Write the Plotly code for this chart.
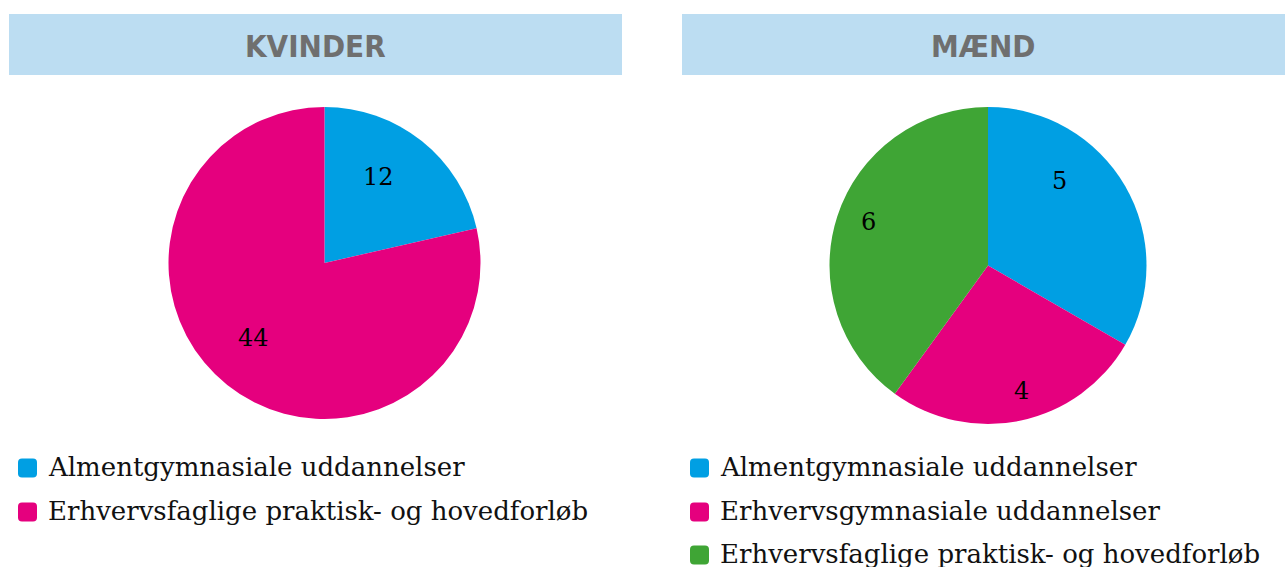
import math
import plotly.graph_objects as go

W, H = 1285, 567

titles = ["KVINDER", "MÆND"]
women_labels = ["Almentgymnasiale uddannelser", "Erhvervsfaglige praktisk- og hovedforløb"]
women_values = [12, 44]
women_colors = ["#009fe3", "#e5007e"]
men_labels = ["Almentgymnasiale uddannelser", "Erhvervsgymnasiale uddannelser",
              "Erhvervsfaglige praktisk- og hovedforløb"]
men_values = [5, 4, 6]
men_colors = ["#009fe3", "#e5007e", "#3fa535"]

SERIF = "DejaVu Serif, Liberation Serif, serif"
HEAD = "DejaVu Sans Condensed, Liberation Sans Narrow, sans-serif"


def px_x(x):
    return x / W


def px_y(y):
    return 1 - y / H


fig = go.Figure()

# (labels, values, colors, x-range px, y-range px, label radius fractions, label angle nudges)
pies = [
    (women_labels, women_values, women_colors, (168.5, 480.5), (107, 419),
     [0.65, 0.66], [-6.5, 5]),
    (men_labels, men_values, men_colors, (829.5, 1146.5), (107, 424),
     [0.70, 0.82, 0.80], [-20, -3, 2]),
]
annotations = []
shapes = []
for labels, values, colors, (x0, x1), (y0, y1), rfrac, nudge in pies:
    fig.add_trace(go.Pie(
        labels=labels, values=values, sort=False, direction="clockwise", rotation=0,
        marker=dict(colors=colors, line=dict(width=0)),
        textinfo="none",
        domain=dict(x=[px_x(x0), px_x(x1)], y=[px_y(y1), px_y(y0)]),
        hoverinfo="label+value", showlegend=False,
    ))
    cx, cy = (x0 + x1) / 2, (y0 + y1) / 2
    R = min(x1 - x0, y1 - y0) / 2
    total = sum(values)
    start = 0.0
    for v, rf, dn in zip(values, rfrac, nudge):
        span = v / total * 360
        ang = math.radians(start + span / 2 + dn)
        start += span
        lx = cx + rf * R * math.sin(ang)
        ly = cy - rf * R * math.cos(ang)
        annotations.append(dict(xref="paper", yref="paper", x=px_x(lx), y=px_y(ly),
                                text=str(v), showarrow=False, xanchor="center", yanchor="middle",
                                font=dict(family=SERIF, size=24, color="#000000")))

# header boxes
headers = [(9, 622), (682, 1285)]
for title, (hx0, hx1) in zip(titles, headers):
    shapes.append(dict(type="rect", xref="paper", yref="paper",
                       x0=px_x(hx0), x1=px_x(hx1), y0=px_y(75), y1=px_y(14),
                       fillcolor="#bcddf2", line=dict(width=0), layer="below"))
    annotations.append(dict(xref="paper", yref="paper", x=px_x((hx0 + hx1) / 2), y=px_y(46),
                            text="<b>" + title + "</b>", showarrow=False,
                            xanchor="center", yanchor="middle",
                            font=dict(family=HEAD, size=31, color="#6f6f6f")))


# legends
def rounded_square(cx, cy, s, r):
    x0, x1 = cx - s / 2, cx + s / 2
    y0, y1 = cy - s / 2, cy + s / 2
    pts = lambda x, y: f"{px_x(x)},{px_y(y)}"
    return (f"M {pts(x0 + r, y0)} L {pts(x1 - r, y0)} Q {pts(x1, y0)} {pts(x1, y0 + r)} "
            f"L {pts(x1, y1 - r)} Q {pts(x1, y1)} {pts(x1 - r, y1)} "
            f"L {pts(x0 + r, y1)} Q {pts(x0, y1)} {pts(x0, y1 - r)} "
            f"L {pts(x0, y0 + r)} Q {pts(x0, y0)} {pts(x0 + r, y0)} Z")


legend_specs = [
    (women_labels, women_colors, 27.5, 46),
    (men_labels, men_colors, 699.5, 718),
]
row_y = [467, 511, 554]
for labels, colors, mx, tx in legend_specs:
    for i, (lab, col) in enumerate(zip(labels, colors)):
        cy = row_y[i]
        shapes.append(dict(type="path", xref="paper", yref="paper",
                           path=rounded_square(mx, cy + 1, 19, 4),
                           fillcolor=col, line=dict(width=0)))
        annotations.append(dict(xref="paper", yref="paper", x=px_x(tx), y=px_y(cy),
                                text=lab, showarrow=False, xanchor="left", yanchor="middle",
                                font=dict(family=SERIF, size=26, color="#111111")))

fig.update_layout(
    width=W, height=H, margin=dict(l=0, r=0, t=0, b=0),
    paper_bgcolor="#ffffff", plot_bgcolor="#ffffff",
    shapes=shapes, annotations=annotations,
)

fig.write_html("out.html", config={"displayModeBar": False},
               post_script="document.body.style.margin='0';document.body.style.overflow='hidden';")
